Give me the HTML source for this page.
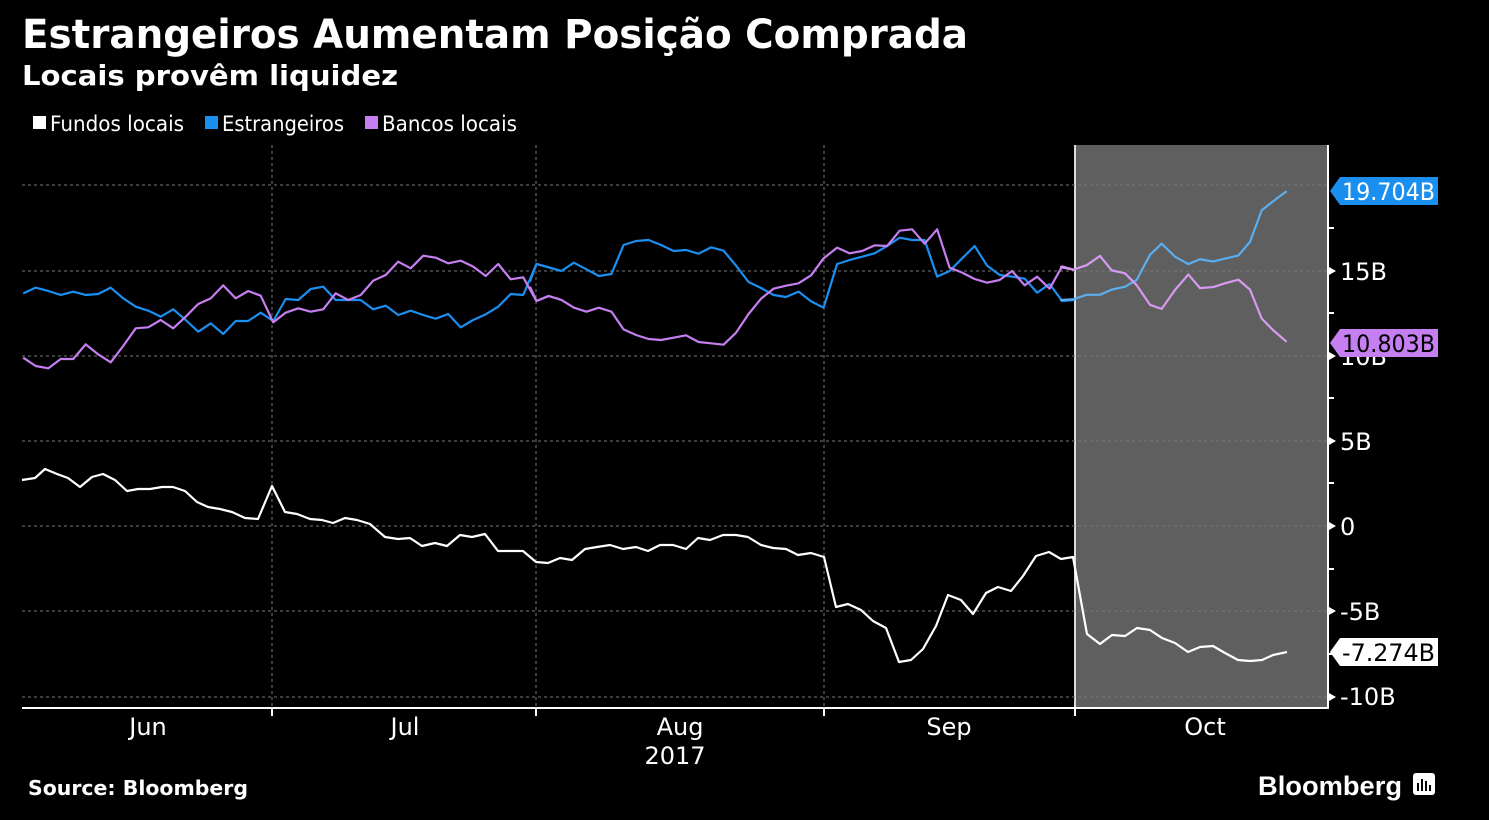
<!DOCTYPE html>
<html><head><meta charset="utf-8"><style>
html,body{margin:0;padding:0;background:#000;}
body{width:1489px;height:820px;overflow:hidden;position:relative;font-family:"Liberation Sans","DejaVu Sans",sans-serif;}
</style></head><body>
<svg width="1489" height="820" viewBox="0 0 1489 820" xmlns="http://www.w3.org/2000/svg" style="position:absolute;left:0;top:0">
<rect width="1489" height="820" fill="#000"/>
<text x="22" y="48" fill="#fff" font-size="40" font-weight="bold" font-family="DejaVu Sans, Liberation Sans, sans-serif" textLength="946" lengthAdjust="spacingAndGlyphs">Estrangeiros Aumentam Posição Comprada</text>
<text x="22" y="85" fill="#fff" font-size="28" font-weight="bold" font-family="DejaVu Sans, Liberation Sans, sans-serif" textLength="376" lengthAdjust="spacingAndGlyphs">Locais provêm liquidez</text>
<g font-size="21" fill="#fff" font-family="DejaVu Sans, Liberation Sans, sans-serif">
<rect x="33" y="116" width="13" height="13" fill="#fff"/><text x="50" y="131" textLength="134" lengthAdjust="spacingAndGlyphs">Fundos locais</text>
<rect x="205" y="116" width="13" height="13" fill="#1a8ff0"/><text x="222" y="131" textLength="122" lengthAdjust="spacingAndGlyphs">Estrangeiros</text>
<rect x="365" y="116" width="13" height="13" fill="#c67ff0"/><text x="382" y="131" textLength="135" lengthAdjust="spacingAndGlyphs">Bancos locais</text>
</g>
<rect x="1074" y="145" width="254" height="563" fill="#5f5f5f"/>
<line x1="1075" y1="145" x2="1075" y2="708" stroke="#ddd" stroke-width="2"/>
<g stroke="#777" stroke-width="1" stroke-dasharray="3,3">
<line x1="22" y1="185" x2="1328" y2="185"/><line x1="22" y1="271" x2="1328" y2="271"/>
<line x1="22" y1="356" x2="1328" y2="356"/><line x1="22" y1="441" x2="1328" y2="441"/>
<line x1="22" y1="526" x2="1328" y2="526"/><line x1="22" y1="611" x2="1328" y2="611"/>
<line x1="22" y1="697" x2="1328" y2="697"/>
<line x1="272" y1="145" x2="272" y2="708"/><line x1="536" y1="145" x2="536" y2="708"/>
<line x1="824" y1="145" x2="824" y2="708"/>
</g>
<g stroke="#fff" stroke-width="2" fill="none">
<line x1="1328" y1="145" x2="1328" y2="709"/>
<line x1="22" y1="708" x2="1329" y2="708"/>
<line x1="272" y1="708" x2="272" y2="716"/><line x1="536" y1="708" x2="536" y2="716"/>
<line x1="824" y1="708" x2="824" y2="716"/><line x1="1075" y1="708" x2="1075" y2="716"/>
<line x1="1328" y1="228" x2="1334" y2="228"/><line x1="1328" y1="313" x2="1334" y2="313"/>
<line x1="1328" y1="398" x2="1334" y2="398"/><line x1="1328" y1="483" x2="1334" y2="483"/>
<line x1="1328" y1="569" x2="1334" y2="569"/><line x1="1328" y1="654" x2="1334" y2="654"/>
</g>
<g fill="#fff">
<polygon points="1329,267 1336,271 1329,275"/><polygon points="1329,352 1336,356 1329,360"/>
<polygon points="1329,437 1336,441 1329,445"/><polygon points="1329,522 1336,526 1329,530"/>
<polygon points="1329,607 1336,611 1329,615"/><polygon points="1329,693 1336,697 1329,701"/>
</g>
<g fill="#fff" font-size="24" font-family="DejaVu Sans, Liberation Sans, sans-serif">
<text x="1340" y="280">15B</text><text x="1340" y="365">10B</text><text x="1340" y="450">5B</text>
<text x="1340" y="535">0</text><text x="1340" y="620">-5B</text><text x="1340" y="705">-10B</text>
<text x="148" y="735" text-anchor="middle">Jun</text><text x="405" y="735" text-anchor="middle">Jul</text>
<text x="680" y="735" text-anchor="middle">Aug</text><text x="949" y="735" text-anchor="middle">Sep</text>
<text x="1205" y="735" text-anchor="middle">Oct</text><text x="675" y="764" text-anchor="middle">2017</text>
</g>
<g fill="none" stroke-width="2.2" stroke-linejoin="round">
<g transform="translate(0,140) scale(0.35714,0.33333)">
<polyline vector-effect="non-scaling-stroke" stroke="#1a8ff0" points="65,460 100,443 135,453 170,465 205,455 240,465 275,462 310,443 345,475 380,500 415,512 450,530 485,508 520,540 555,575 590,550 625,582 660,543 695,543 730,518 765,543 800,477 835,480 870,447 905,440 940,480 975,480 1010,480 1045,508 1080,497 1115,525 1150,512 1185,525 1220,536 1255,522 1290,562 1325,540 1360,523 1395,500 1430,462 1465,465 1502,372 1568,392"/>
<polyline vector-effect="non-scaling-stroke" stroke="#c67ff0" points="65,653 100,678 135,685 170,657 205,657 240,613 275,643 310,667 345,618 380,565 415,562 450,540 485,565 520,530 555,492 590,475 625,436 660,475 695,453 730,467 765,547 800,518 835,505 870,515 905,508 940,460 975,480 1010,465 1045,422 1080,405 1115,365 1150,385 1185,347 1220,353 1255,370 1290,362 1325,380 1360,408 1395,372 1430,418 1465,412 1502,483 1535,468 1568,478"/>
</g>
<g transform="translate(530,140) scale(0.35714,0.33333)">
<polyline vector-effect="non-scaling-stroke" stroke="#1a8ff0" points="0,425 18,372 53,382 88,393 123,368 158,388 193,408 228,402 262,315 297,303 332,300 367,315 402,333 437,330 472,341 507,322 542,332 577,377 612,426 647,444 682,465 717,471 752,455 787,484 822,503 860,372 895,360 930,350 965,340 1000,318 1035,293 1070,300 1105,300 1140,410 1175,393 1210,355 1245,318 1280,377 1315,405 1350,410 1385,416 1420,458 1455,432 1490,483 1525,480"/>
<polyline vector-effect="non-scaling-stroke" stroke="#c67ff0" points="0,440 18,483 53,468 88,480 123,503 158,515 193,503 228,515 262,568 297,585 332,597 367,600 402,593 437,586 472,606 507,610 542,614 577,578 612,522 647,476 682,446 717,437 752,430 787,406 822,355 860,323 895,340 930,333 965,316 1000,318 1035,272 1070,268 1105,311 1140,268 1175,383 1210,398 1245,417 1280,428 1315,420 1350,393 1385,436 1420,410 1455,446 1490,379 1525,390"/>
</g>
<g transform="translate(1060,140) scale(0.33333,0.37037)">
<polyline vector-effect="non-scaling-stroke" stroke="#5aaef0" points="0,432 40,430 80,418 120,418 155,404 195,396 230,378 270,310 305,280 345,315 385,335 420,322 460,328 495,320 535,312 570,275 605,190 640,165 680,138"/>
<polyline vector-effect="non-scaling-stroke" stroke="#d79af0" points="0,343 40,350 80,338 120,313 155,352 195,360 230,392 270,445 305,456 345,405 385,363 420,400 460,397 495,387 535,377 570,404 605,482 640,514 680,545"/>
</g>
<polyline stroke="#fff" points="22,480 35,478 45,469 57,474 68,478 80,487 92,477 103,474 115,480 127,491 138,489 150,489 162,487 173,487 185,491 197,502 208,507 220,509 232,512 245,518 258,519 272,486 285,512 297,514 310,519 322,520 333,523 345,518 357,520 370,524 385,537 398,539 410,538 422,546 435,543 447,546 460,535 472,537 485,534 498,551 510,551 523,551 536,562 548,563 560,558 572,560 585,549 597,547 610,545 623,549 636,547 648,551 660,545 673,545 686,549 698,538 710,540 723,535 736,535 748,537 761,545 773,548 786,549 798,555 811,553 824,557 836,607 848,604 861,610 873,621 886,628 899,662 911,660 923,649 936,626 948,595 961,600 973,614 986,593 998,587 1011,591 1023,576 1036,556 1049,552 1061,559 1073,557 1087,634 1100,644 1112,635 1125,636 1137,628 1150,630 1162,638 1175,643 1188,652 1200,647 1213,646 1225,653 1238,660 1250,661 1262,660 1273,655 1287,652"/>
</g>
<g font-size="24" font-family="DejaVu Sans, Liberation Sans, sans-serif">
<polygon points="1330,191 1340,177 1438,177 1438,205 1340,205" fill="#1a8ff0"/>
<text x="1342" y="200" fill="#fff" textLength="93" lengthAdjust="spacingAndGlyphs">19.704B</text>
<polygon points="1330,343 1340,329 1438,329 1438,357 1340,357" fill="#c67ff0"/>
<text x="1342" y="352" fill="#000" textLength="93" lengthAdjust="spacingAndGlyphs">10.803B</text>
<polygon points="1330,652 1340,638 1438,638 1438,666 1340,666" fill="#fff"/>
<text x="1342" y="661" fill="#000" textLength="93" lengthAdjust="spacingAndGlyphs">-7.274B</text>
</g>
<text x="28" y="795" fill="#fff" font-size="20" font-weight="bold" font-family="DejaVu Sans, Liberation Sans, sans-serif" textLength="220" lengthAdjust="spacingAndGlyphs">Source: Bloomberg</text>
<text x="1258" y="795" fill="#fff" font-size="27" font-weight="bold" font-family="Liberation Sans, sans-serif" textLength="144" lengthAdjust="spacingAndGlyphs">Bloomberg</text>
<rect x="1413" y="773" width="22" height="22" rx="3" fill="#fff"/>
<g fill="#000"><rect x="1417" y="783" width="2" height="8"/><rect x="1421" y="779" width="2" height="12"/><rect x="1425" y="781" width="2" height="10"/><rect x="1429" y="785" width="2" height="6"/></g>
</svg>
</body></html>
